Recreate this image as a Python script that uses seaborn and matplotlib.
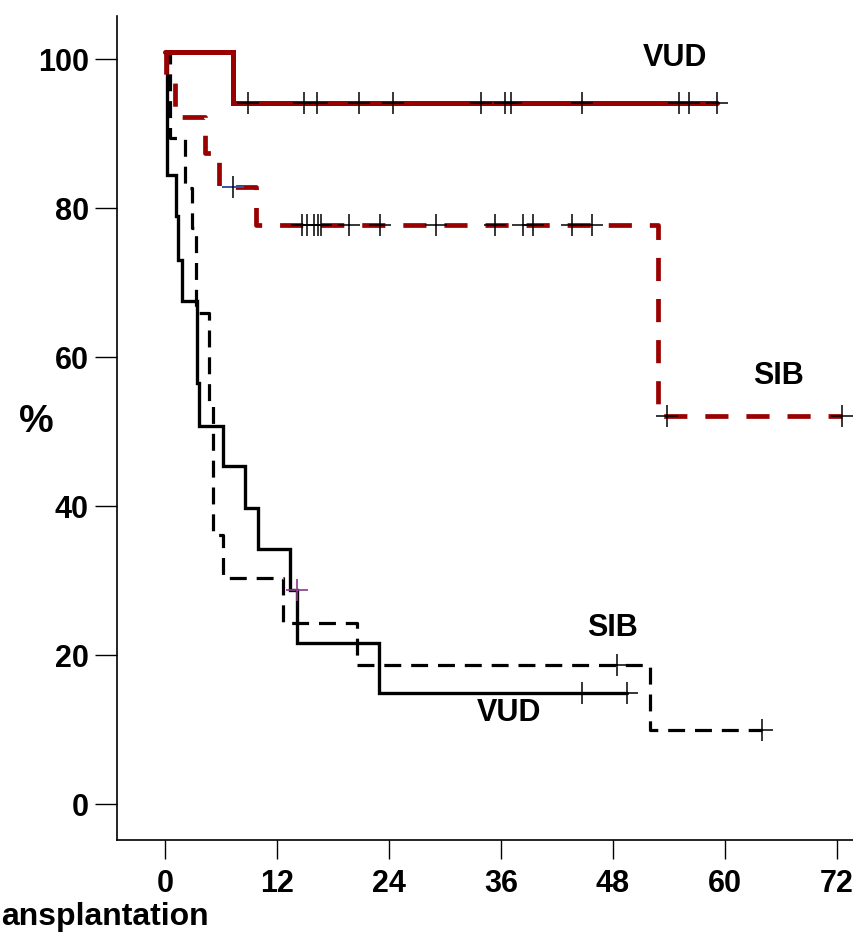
import matplotlib
matplotlib.use("Agg")
import matplotlib.pyplot as plt
import seaborn as sns
import pandas as pd

# ---------------- data ----------------
# Red solid (VUD, upper)
vud_top_t = [0, 7.29, 59.13]
vud_top_s = [101, 94.1, 94.1]
vud_top_cens = [8.86, 14.87, 16.26, 20.79, 24.44, 33.87, 36.47, 37.12, 44.66, 55.12, 56.11, 59.13]

# Red dashed (SIB, upper)
sib_top_t = [0, 0.15, 1.07, 4.29, 5.79, 9.75, 52.81, 72.53]
sib_top_s = [101, 97.5, 92.2, 87.4, 82.9, 77.8, 52.1, 52.1]
sib_top_cens = [14.65, 15.19, 15.97, 16.37, 16.72, 19.75, 23.04, 28.99, 35.37,
                38.34, 39.41, 43.59, 45.73, 53.77, 72.53]
sib_top_cens_blue = [7.29]

# Black solid (VUD, lower)
vud_low_t = [0, 0.18, 1.2, 1.43, 1.79, 3.38, 3.68, 6.25, 8.57, 10.0, 13.34, 14.15, 22.97, 49.49]
vud_low_s = [101, 84.5, 78.9, 73.1, 67.6, 56.5, 50.8, 45.4, 39.8, 34.2, 28.7, 21.6, 14.9, 14.9]
vud_low_cens = [44.66, 49.49]
vud_low_cens_purple = [14.12]

# Black dashed (SIB, lower)
sib_low_t = [0, 0.54, 2.14, 2.86, 3.32, 4.75, 5.18, 6.25, 12.62, 20.55, 51.98, 64.0]
sib_low_s = [101, 89.4, 82.7, 77.3, 65.9, 53.6, 36.1, 30.4, 24.3, 18.6, 9.9, 9.9]
sib_low_cens = [48.39, 64.0]

x_ticks = [0, 12, 24, 36, 48, 60, 72]
y_ticks = [0, 20, 40, 60, 80, 100]


def step_value(ts, ss, t):
    v = ss[0]
    for ti, si in zip(ts, ss):
        if ti <= t:
            v = si
    return v


def cens_df(ts, ss, cens):
    return pd.DataFrame({"t": cens, "s": [step_value(ts, ss, c) for c in cens]})


# ---------------- figure ----------------
sns.set_style("ticks")
plt.rcParams["font.family"] = ["Liberation Sans", "DejaVu Sans"]
plt.rcParams["font.weight"] = "bold"
plt.rcParams["xtick.color"] = "black"
plt.rcParams["ytick.color"] = "black"
plt.rcParams["xtick.labelcolor"] = "black"
plt.rcParams["ytick.labelcolor"] = "black"

fig = plt.figure(figsize=(8.54, 9.35), dpi=100)
ax = fig.add_axes([116.7 / 854, (935 - 840) / 935, 1 - 116.7 / 854, (840 - 16) / 935])

RED = "#990000"

# black curves first
sns.lineplot(data=pd.DataFrame({"t": vud_low_t, "s": vud_low_s}), x="t", y="s",
             drawstyle="steps-post", color="black", linewidth=2.4, estimator=None,
             ax=ax, solid_joinstyle="miter")
sns.lineplot(data=pd.DataFrame({"t": sib_low_t, "s": sib_low_s}), x="t", y="s",
             drawstyle="steps-post", color="black", linewidth=2.3, estimator=None,
             ax=ax, linestyle=(0, (5.3, 3.1)))
# red curves
sns.lineplot(data=pd.DataFrame({"t": sib_top_t, "s": sib_top_s}), x="t", y="s",
             drawstyle="steps-post", color=RED, linewidth=3.4, estimator=None,
             ax=ax, linestyle=(0, (4.9, 3.8)))
sns.lineplot(data=pd.DataFrame({"t": vud_top_t, "s": vud_top_s}), x="t", y="s",
             drawstyle="steps-post", color=RED, linewidth=3.6, estimator=None,
             ax=ax, solid_joinstyle="miter")

# censor marks
for ts, ss, cens in [(vud_top_t, vud_top_s, vud_top_cens),
                     (sib_top_t, sib_top_s, sib_top_cens),
                     (vud_low_t, vud_low_s, vud_low_cens),
                     (sib_low_t, sib_low_s, sib_low_cens)]:
    sns.scatterplot(data=cens_df(ts, ss, cens), x="t", y="s", marker="+", s=260,
                    color="black", linewidth=1.1, ax=ax, zorder=5)

bd = cens_df(sib_top_t, sib_top_s, sib_top_cens_blue)
sns.scatterplot(data=bd, x="t", y="s", marker="_", s=260, color="#3355aa",
                linewidth=1.4, ax=ax, zorder=5)
sns.scatterplot(data=bd, x="t", y="s", marker="|", s=260, color="black",
                linewidth=1.1, ax=ax, zorder=6)
sns.scatterplot(data=cens_df(vud_low_t, vud_low_s, vud_low_cens_purple), x="t", y="s",
                marker="+", s=260, color="#8b3a8b", linewidth=1.2, ax=ax, zorder=6)

# axes
ax.set_xlim(-5.18, 73.83)
ax.set_ylim(-4.83, 105.8)
ax.set_xticks(x_ticks)
ax.set_yticks(y_ticks)
ax.set_xticklabels([str(v) for v in x_ticks], fontsize=22, fontweight="bold", color="black")
ax.set_yticklabels([str(v) for v in y_ticks], fontsize=22, fontweight="bold", color="black")
ax.tick_params(axis="y", length=16, width=1.0, pad=4, direction="out", colors="black")
ax.tick_params(axis="x", length=14, width=1.0, pad=7, direction="out", colors="black")
ax.set_xlabel("")
ax.set_ylabel("")
for side in ["top", "right"]:
    ax.spines[side].set_visible(False)
for side in ["left", "bottom"]:
    ax.spines[side].set_linewidth(1.2)
    ax.spines[side].set_color("black")

# annotations
def px_text(x, y, s, size=22, ha="center", va="center"):
    fig.text(x / 854, 1 - y / 935, s, fontsize=size, fontweight="bold",
             ha=ha, va=va, color="black")

px_text(675, 58, "VUD")
px_text(778, 376, "SIB")
px_text(612, 628, "SIB")
px_text(509, 713, "VUD")
px_text(36, 422, "%", size=28)
px_text(1, 917, "ansplantation", size=23, ha="left", va="center")

fig.savefig("out.png", dpi=100)
